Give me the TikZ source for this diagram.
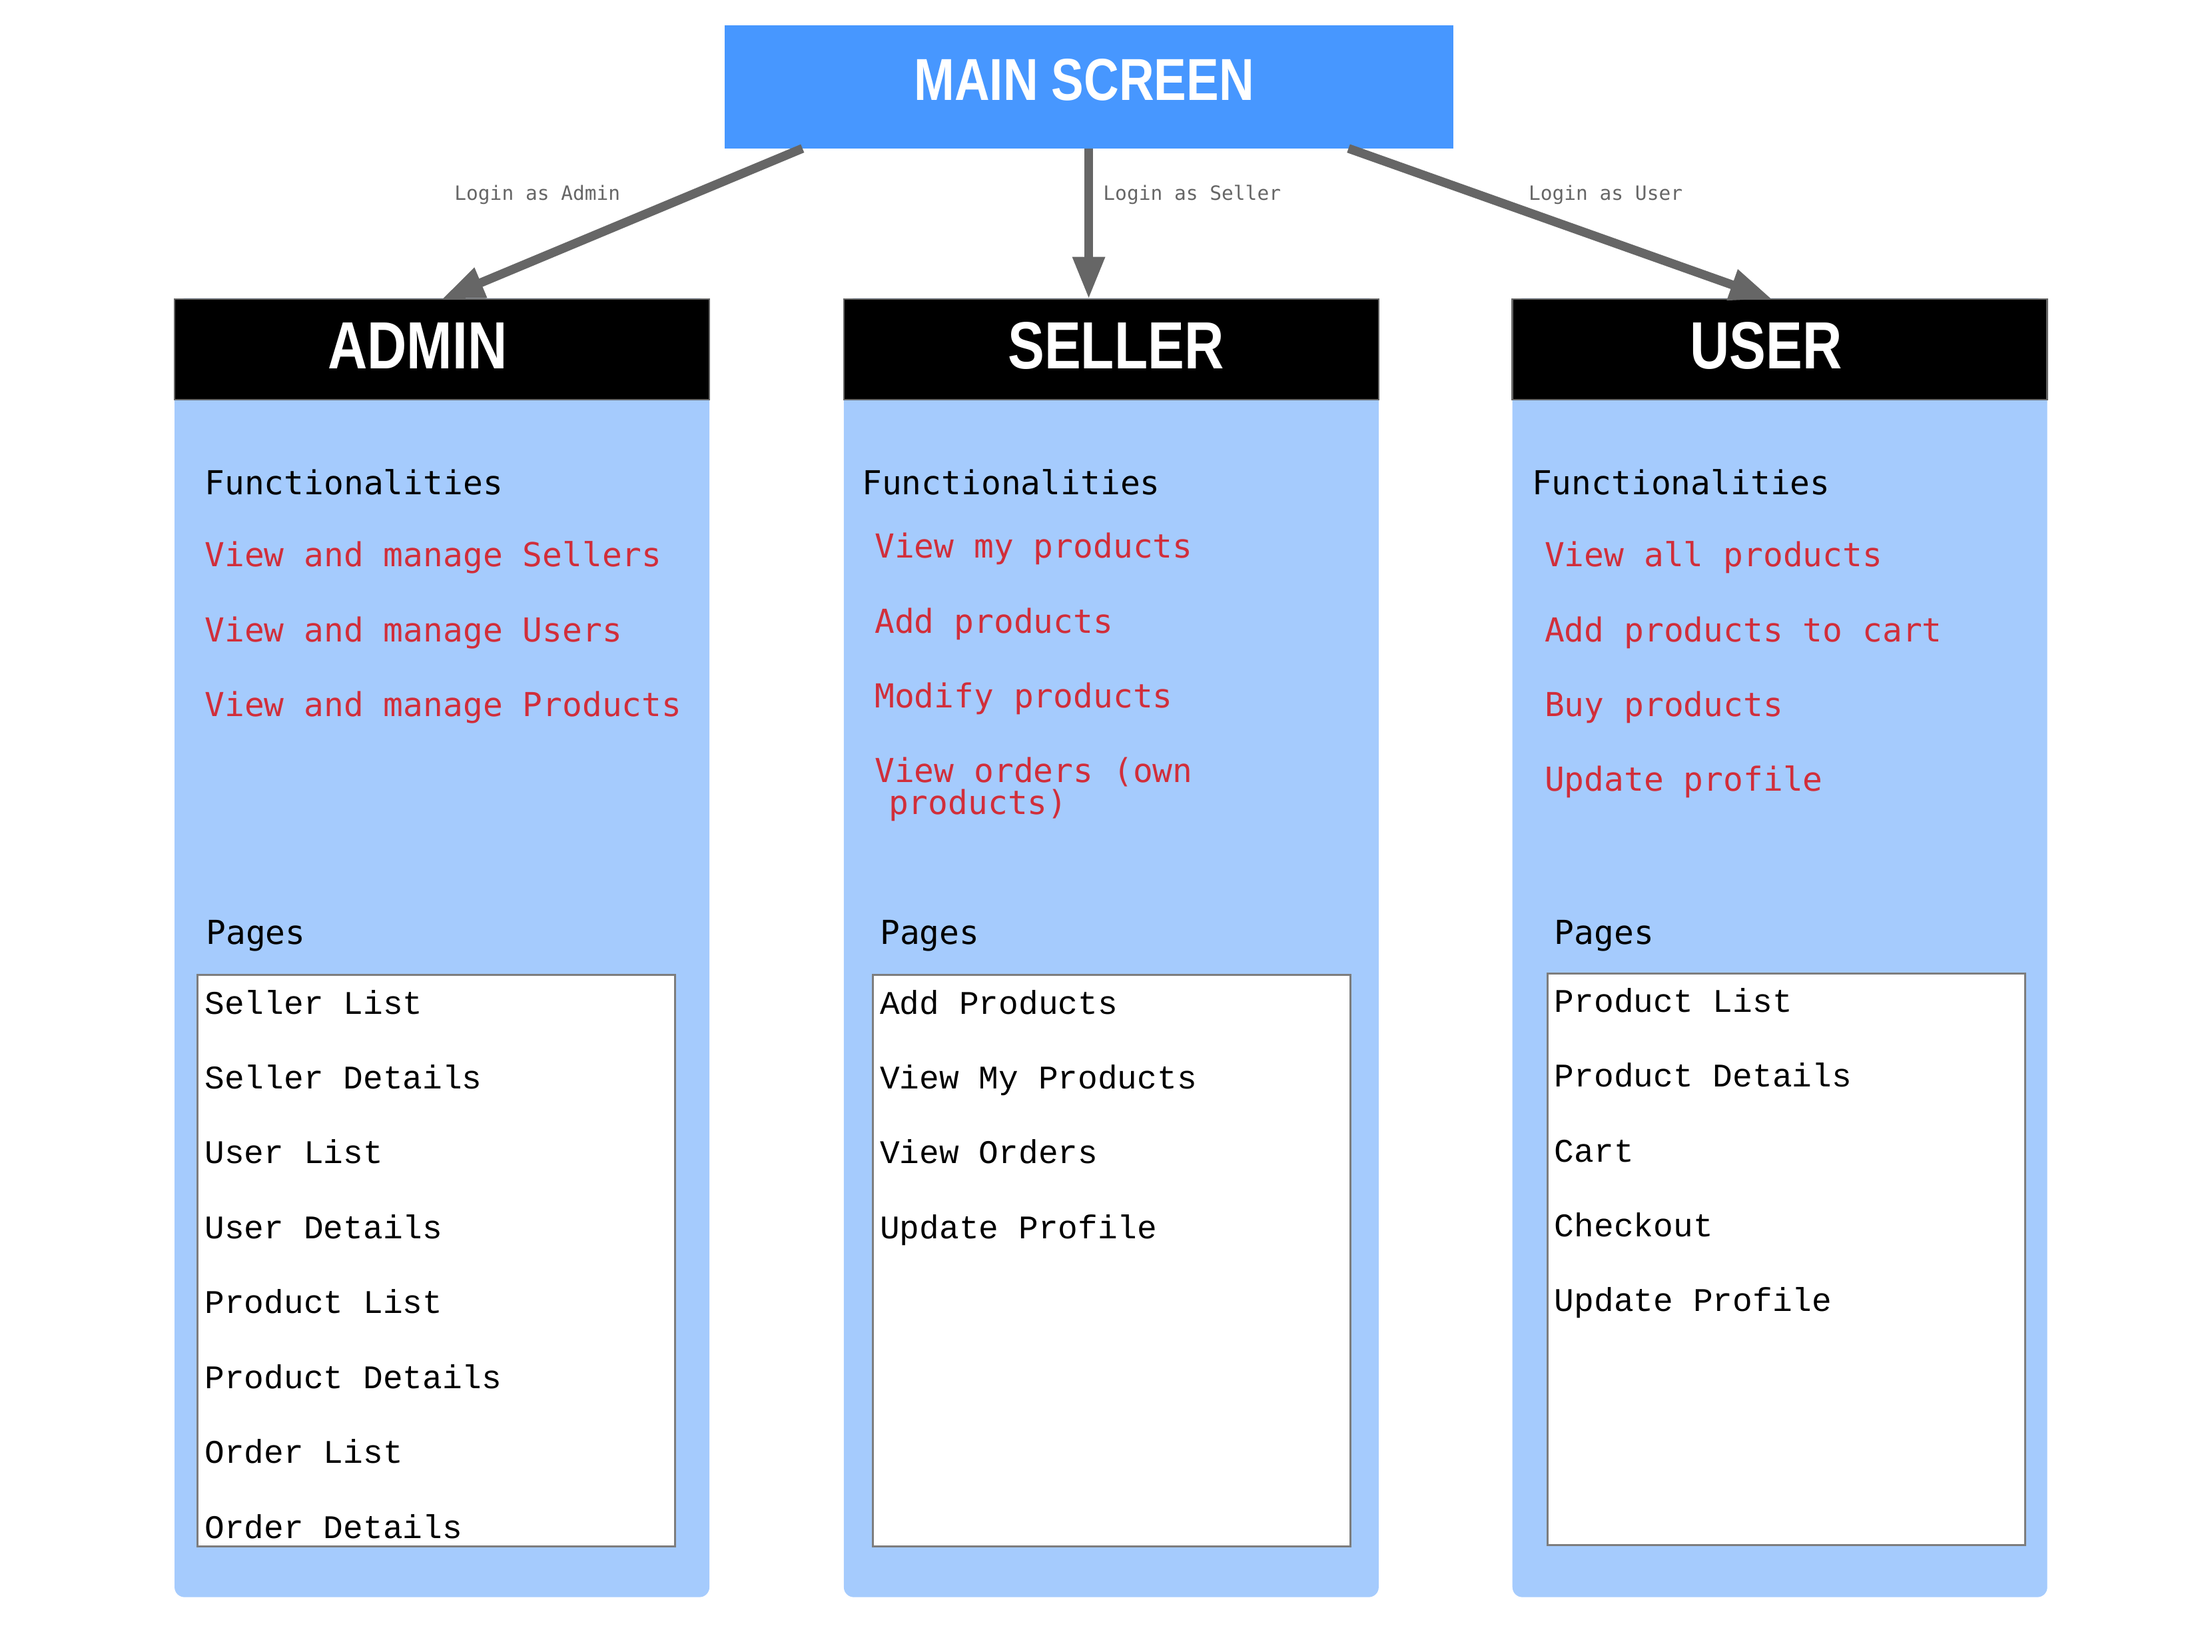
\documentclass[tikz,border=0pt]{standalone}
\usepackage{fontspec}
\usetikzlibrary{arrows.meta,calc}
\newfontfamily\titlefont[FakeStretch=0.82]{Liberation Sans}
\newfontfamily\monofont{DejaVu Sans Mono}
\newfontfamily\pagefont{Liberation Mono}
\definecolor{mainblue}{HTML}{4797FF}
\definecolor{bodyblue}{HTML}{A5CBFD}
\definecolor{itemred}{HTML}{D12E3A}
\definecolor{linegray}{HTML}{666666}
\begin{document}
\begin{tikzpicture}[x=0.009955cm,y=-0.009955cm]
  \tikzstyle{every node}=[inner sep=0pt,outer sep=0pt]
  \tikzstyle{screenbox}=[rectangle,fill=mainblue,minimum width=10.94cm,minimum height=1.85cm]
  \tikzstyle{screentitle}=[text=white,font=\titlefont\bfseries\fontsize{25.3pt}{27pt}\selectfont]
  \tikzstyle{rolebox}=[rectangle,fill=black,draw=linegray,line width=0.7pt,minimum width=8.03cm,minimum height=1.51cm]
  \tikzstyle{roletitle}=[text=white,font=\titlefont\bfseries\fontsize{28.5pt}{30pt}\selectfont]
  \tikzstyle{rolebody}=[rectangle,fill=bodyblue,rounded corners=0.15cm,minimum width=8.03cm,minimum height=19.5cm]
  \tikzstyle{pagebox}=[rectangle,fill=white,draw=linegray!85,line width=0.8pt,minimum width=7.17cm,minimum height=8.58cm]
  \tikzstyle{heading}=[anchor=base west,font=\monofont\fontsize{14.1pt}{17pt}\selectfont]
  \tikzstyle{feature}=[heading,text=itemred]
  \tikzstyle{pageitem}=[anchor=base west,font=\pagefont\fontsize{14.1pt}{17pt}\selectfont]
  \tikzstyle{login}=[text=linegray,font=\monofont\fontsize{8.4pt}{10pt}\selectfont]
  \tikzstyle{link}=[draw=linegray,line width=3.8pt,-{Triangle[length=18pt,width=13pt]}]

  \useasboundingbox (0,0) rectangle (33.21cm,-24.8cm);

  \node[screenbox] (main) at (1643,131) {};
  \node[screentitle] (maintitle) at (1636,121) {MAIN SCREEN};

  % columns
  \node[rolebody] (adminbody) at (667,1430) {};
  \node[rolebody] (sellerbody) at (1677,1430) {};
  \node[rolebody] (userbody) at (2686,1430) {};
  \node[rolebox] (admin) at (667,527) {};
  \node[rolebox] (seller) at (1677,527) {};
  \node[rolebox] (user) at (2686,527) {};
  \node[roletitle] (admintitle) at (630,522) {ADMIN};
  \node[roletitle] (sellertitle) at (1684,522) {SELLER};
  \node[roletitle] (usertitle) at (2665,522) {USER};

  % logins
  \draw[link] ($(main.south)+(-432,0)$) -- (admin.north);
  \draw[link] (main.south) -- (main.south |- seller.north);
  \draw[link] ($(main.south)+(392,0)$) -- ($(user.north)+(-12,0)$);
  \node[login] (loginadmin) at (811,294) {Login as Admin};
  \node[login] (loginseller) at (1799,294) {Login as Seller};
  \node[login] (loginuser) at (2423,294) {Login as User};

  % admin
  \node[heading] (adminfunc) at (309,746) {Functionalities};
  \foreach \item [count=\i] in {View and manage Sellers,View and manage Users,View and manage Products}
    \node[feature] at (309,{742+113*\i}) {\item};
  \node[heading] (adminpages) at (311,1425) {Pages};
  \node[pagebox] (adminlist) at (658,1902) {};
  \foreach \item [count=\i] in {Seller List,Seller Details,User List,User Details,Product List,
    Product Details,Order List,Order Details}
    \node[pageitem] at (309,{1417+113*\i}) {\item};

  % seller
  \node[heading] (sellerfunc) at (1301,746) {Functionalities};
  \foreach \item [count=\i] in {View my products,Add products,Modify products,View orders (own}
    \node[feature] at (1320,{729+113*\i}) {\item};
  \node[feature] (sellerwrap) at (1341,1229) {products)};
  \node[heading] (sellerpages) at (1328,1425) {Pages};
  \node[pagebox] (sellerlist) at (1678,1902) {};
  \foreach \item [count=\i] in {Add Products,View My Products,View Orders,Update Profile}
    \node[pageitem] at (1328,{1417+113*\i}) {\item};

  % user
  \node[heading] (userfunc) at (2312,746) {Functionalities};
  \foreach \item [count=\i] in {View all products,Add products to cart,Buy products,Update profile}
    \node[feature] at (2331,{742+113*\i}) {\item};
  \node[heading] (userpages) at (2346,1425) {Pages};
  \node[pagebox] (userlist) at (2696,1900) {};
  \foreach \item [count=\i] in {Product List,Product Details,Cart,Checkout,Update Profile}
    \node[pageitem] at (2346,{1414+113*\i}) {\item};
\end{tikzpicture}
\end{document}
